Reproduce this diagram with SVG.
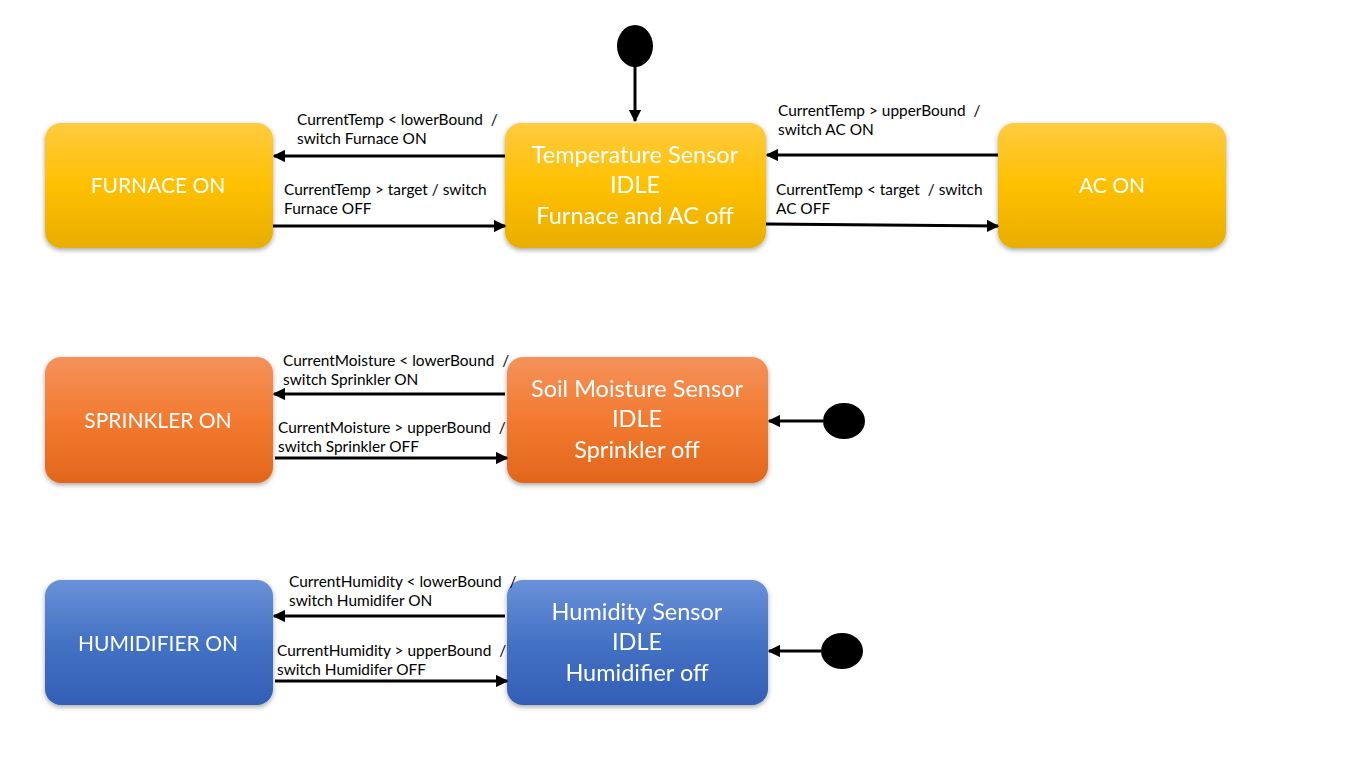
<svg xmlns="http://www.w3.org/2000/svg" width="1366" height="768" viewBox="0 0 1366 768">
<defs>
<linearGradient id="gy" x1="0" y1="0" x2="0" y2="1"><stop offset="0" stop-color="#FFCB40"/><stop offset="0.5" stop-color="#FFC000"/><stop offset="1" stop-color="#E8AE00"/></linearGradient>
<linearGradient id="go" x1="0" y1="0" x2="0" y2="1"><stop offset="0" stop-color="#F5925A"/><stop offset="0.5" stop-color="#F27A30"/><stop offset="1" stop-color="#E2661C"/></linearGradient>
<linearGradient id="gb" x1="0" y1="0" x2="0" y2="1"><stop offset="0" stop-color="#6A91D8"/><stop offset="0.5" stop-color="#4472C4"/><stop offset="1" stop-color="#335FB6"/></linearGradient>
<filter id="sh" x="-10%" y="-10%" width="120%" height="130%"><feDropShadow dx="0" dy="2" stdDeviation="2.5" flood-color="#000" flood-opacity="0.35"/></filter>
<marker id="ah" viewBox="0 0 10 10" refX="9" refY="5" markerWidth="4.2" markerHeight="4.2" orient="auto" markerUnits="strokeWidth"><path d="M0,0 L10,5 L0,10 z" fill="#000"/></marker>
</defs>
<style>
.node{filter:url(#sh);}
.nt{font-family:Lato,"Open Sans",sans-serif;font-size:23.5px;fill:#fff;text-anchor:middle;}
.nc{font-size:21px;}
.lb{font-family:Lato,"Open Sans",sans-serif;font-size:15.4px;fill:#000;white-space:pre;}
.c{stroke:#000;stroke-width:3;fill:none;marker-end:url(#ah);}
.init{fill:#000;}
</style>
<rect width="1366" height="768" fill="#fff"/>
<g id="furnace-on" class="node"><rect x="45" y="123" width="228" height="125" rx="16" fill="url(#gy)"/><text class="nt nc" x="158" y="193">FURNACE ON</text></g>
<g id="temp-idle" class="node"><rect x="505" y="123" width="261" height="125" rx="16" fill="url(#gy)"/><text class="nt" x="635" y="163">Temperature Sensor</text><text class="nt" x="635" y="193">IDLE</text><text class="nt" x="635" y="224">Furnace and AC off</text></g>
<g id="ac-on" class="node"><rect x="998" y="123" width="228" height="125" rx="16" fill="url(#gy)"/><text class="nt nc" x="1112" y="193">AC ON</text></g>
<g id="sprinkler-on" class="node"><rect x="45" y="357" width="228" height="126" rx="16" fill="url(#go)"/><text class="nt nc" x="158" y="428">SPRINKLER ON</text></g>
<g id="soil-idle" class="node"><rect x="507" y="357" width="261" height="126" rx="16" fill="url(#go)"/><text class="nt" x="637" y="397">Soil Moisture Sensor</text><text class="nt" x="637" y="427">IDLE</text><text class="nt" x="637" y="458">Sprinkler off</text></g>
<g id="humidifier-on" class="node"><rect x="45" y="580" width="228" height="125" rx="16" fill="url(#gb)"/><text class="nt nc" x="158" y="651">HUMIDIFIER ON</text></g>
<g id="humidity-idle" class="node"><rect x="507" y="580" width="261" height="125" rx="16" fill="url(#gb)"/><text class="nt" x="637" y="620">Humidity Sensor</text><text class="nt" x="637" y="650">IDLE</text><text class="nt" x="637" y="681">Humidifier off</text></g>
<g id="init-temp"><ellipse class="init" cx="635" cy="46" rx="18" ry="21"/></g>
<g id="init-soil"><ellipse class="init" cx="844" cy="421" rx="21" ry="18"/></g>
<g id="init-humidity"><ellipse class="init" cx="842" cy="651" rx="21" ry="18"/></g>
<g id="connectors">
<line class="c" x1="635" y1="66" x2="635" y2="121"/>
<line class="c" x1="505" y1="156" x2="274" y2="156"/>
<line class="c" x1="273" y1="226" x2="505" y2="226"/>
<line class="c" x1="998" y1="155" x2="767" y2="155"/>
<line class="c" x1="766" y1="224" x2="998" y2="226"/>
<line class="c" x1="823" y1="421" x2="769" y2="421"/>
<line class="c" x1="505" y1="394" x2="274" y2="394"/>
<line class="c" x1="275" y1="458" x2="507" y2="458"/>
<line class="c" x1="821" y1="651" x2="769" y2="651"/>
<line class="c" x1="505" y1="616" x2="274" y2="616"/>
<line class="c" x1="275" y1="681" x2="507" y2="681"/>
</g>
<g id="labels">
<text class="lb" x="297" y="125">CurrentTemp &lt; lowerBound  /</text>
<text class="lb" x="297" y="144">switch Furnace ON</text>
<text class="lb" x="284" y="195">CurrentTemp &gt; target / switch</text>
<text class="lb" x="284" y="214">Furnace OFF</text>
<text class="lb" x="778" y="116">CurrentTemp &gt; upperBound  /</text>
<text class="lb" x="778" y="135">switch AC ON</text>
<text class="lb" x="776" y="195">CurrentTemp &lt; target  / switch</text>
<text class="lb" x="776" y="214">AC OFF</text>
<text class="lb" x="283" y="366">CurrentMoisture &lt; lowerBound  /</text>
<text class="lb" x="283" y="385">switch Sprinkler ON</text>
<text class="lb" x="278" y="433">CurrentMoisture &gt; upperBound  /</text>
<text class="lb" x="278" y="452">switch Sprinkler OFF</text>
<text class="lb" x="289" y="587">CurrentHumidity &lt; lowerBound  /</text>
<text class="lb" x="289" y="606">switch Humidifer ON</text>
<text class="lb" x="277" y="656">CurrentHumidity &gt; upperBound  /</text>
<text class="lb" x="277" y="675">switch Humidifer OFF</text>
</g>
</svg>
